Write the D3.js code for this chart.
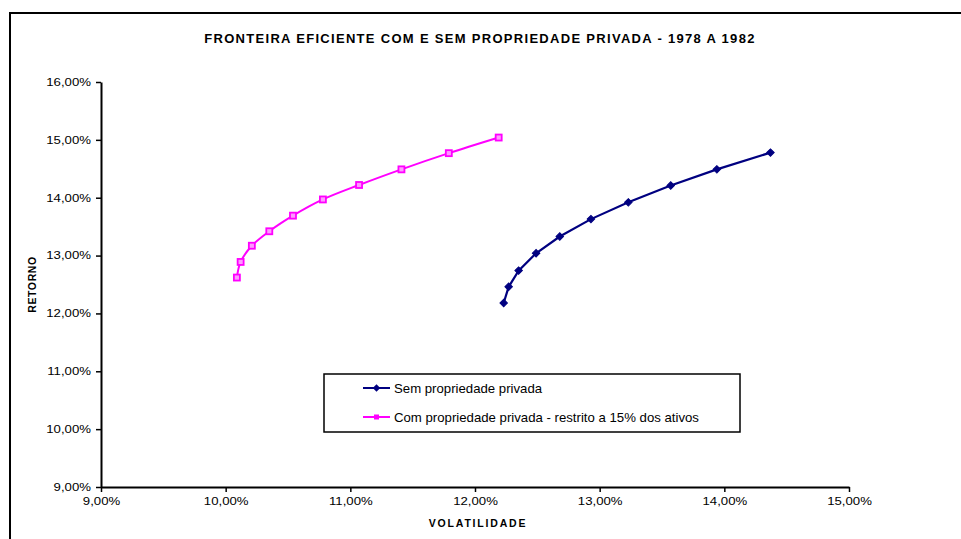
<!DOCTYPE html>
<html>
<head>
<meta charset="utf-8">
<script src="https://cdn.jsdelivr.net/npm/d3@7"></script>
<style>
  html, body { margin: 0; padding: 0; background: #fff; }
  svg { display: block; font-family: "Liberation Sans", Arial, sans-serif; }
</style>
</head>
<body>
<svg id="chart" width="961" height="539"></svg>
<script>
// Efficient frontier, volatility (%) vs return (%)
const semVol = [12.23, 12.27, 12.35, 12.49, 12.68, 12.93, 13.23, 13.57, 13.94, 14.37];
const semRet = [12.18, 12.46, 12.74, 13.04, 13.33, 13.63, 13.92, 14.21, 14.49, 14.78];
const comVol = [10.09, 10.12, 10.21, 10.35, 10.54, 10.78, 11.07, 11.41, 11.79, 12.19];
const comRet = [12.62, 12.89, 13.17, 13.42, 13.69, 13.97, 14.22, 14.49, 14.77, 15.04];

const seriesNames = ["Sem propriedade privada", "Com propriedade privada - restrito a 15% dos ativos"];
const xTicks = [9, 10, 11, 12, 13, 14, 15];
const yTicks = [9, 10, 11, 12, 13, 14, 15, 16];

const titleText = "FRONTEIRA EFICIENTE COM E SEM PROPRIEDADE PRIVADA - 1978 A 1982";
const xTitle = "VOLATILIDADE";
const yTitle = "RETORNO";

const navy = "#000080";
const magenta = "#FF00FF";

const svg = d3.select("#chart");
const plot = { left: 101, right: 849, top: 82, bottom: 487 };

const x = d3.scaleLinear().domain([9, 15]).range([plot.left, plot.right]);
const y = d3.scaleLinear().domain([9, 16]).range([plot.bottom, plot.top]);
const fmt = v => d3.format(".2f")(v).replace(".", ",") + "%";

// outer frame
svg.append("rect")
  .attr("x", 10).attr("y", 13).attr("width", 1000).attr("height", 600)
  .attr("fill", "none").attr("stroke", "#000").attr("stroke-width", 2);

// title
svg.append("text")
  .attr("x", 480).attr("y", 43)
  .attr("text-anchor", "middle")
  .attr("font-size", 13).attr("font-weight", "bold")
  .attr("letter-spacing", 1.3)
  .text(titleText);

// axes
const sx = 1.28;
const yAxis = svg.append("g")
  .attr("transform", `translate(${plot.left},0)`)
  .call(d3.axisLeft(y).tickValues(yTicks).tickFormat(fmt).tickSize(5).tickSizeOuter(0));
yAxis.selectAll("text")
  .attr("font-size", 10.3).attr("fill", "#000").attr("font-family", "Liberation Sans, Arial, sans-serif")
  .attr("x", -10 / sx)
  .attr("transform", `scale(${sx},1)`);

const xAxis = svg.append("g")
  .attr("transform", `translate(0,${plot.bottom})`)
  .call(d3.axisBottom(x).tickValues(xTicks).tickFormat(fmt).tickSize(5).tickSizeOuter(0));
xAxis.selectAll(".tick text")
  .attr("font-size", 10.3).attr("fill", "#000").attr("font-family", "Liberation Sans, Arial, sans-serif")
  .attr("y", 11)
  .attr("transform", `scale(${sx},1)`);

[yAxis, xAxis].forEach(g => {
  g.select(".domain").attr("stroke", "#000").attr("stroke-width", 2);
  g.selectAll(".tick line").attr("stroke", "#000").attr("stroke-width", 1.5);
});

// axis titles
svg.append("text")
  .attr("x", 478).attr("y", 527)
  .attr("text-anchor", "middle")
  .attr("font-size", 10.5).attr("font-weight", "bold")
  .attr("letter-spacing", 1.8)
  .text(xTitle);

svg.append("text")
  .attr("transform", `translate(36,${(plot.top + plot.bottom) / 2}) rotate(-90)`)
  .attr("text-anchor", "middle")
  .attr("font-size", 10.5).attr("font-weight", "bold")
  .attr("letter-spacing", 0.6)
  .text(yTitle);

// series
const semData = semVol.map((v, i) => ({ v, r: semRet[i] }));
const comData = comVol.map((v, i) => ({ v, r: comRet[i] }));

const lineLinear = d3.line().x(d => x(d.v)).y(d => y(d.r));
const lineSmooth = d3.line().x(d => x(d.v)).y(d => y(d.r)).curve(d3.curveCatmullRom.alpha(0.5));

svg.append("path").datum(comData)
  .attr("d", lineSmooth)
  .attr("fill", "none").attr("stroke", magenta).attr("stroke-width", 2);

svg.append("path").datum(semData)
  .attr("d", lineLinear)
  .attr("fill", "none").attr("stroke", navy).attr("stroke-width", 2.2);

// square symbol turned 45 degrees gives an even diamond
const diamond = d3.symbol().type(d3.symbolSquare).size(28);

svg.append("g").selectAll("path")
  .data(semData).join("path")
  .attr("transform", d => `translate(${x(d.v)},${y(d.r)}) rotate(45)`)
  .attr("d", diamond)
  .attr("fill", navy).attr("stroke", navy).attr("stroke-width", 1);

svg.append("g").selectAll("rect")
  .data(comData).join("rect")
  .attr("x", d => x(d.v) - 3).attr("y", d => y(d.r) - 3)
  .attr("width", 6).attr("height", 6)
  .attr("fill", "#ff99ff").attr("stroke", magenta).attr("stroke-width", 1.8);

// legend
const legend = svg.append("g");
legend.append("rect")
  .attr("x", 324).attr("y", 374).attr("width", 416).attr("height", 58)
  .attr("fill", "#fff").attr("stroke", "#000").attr("stroke-width", 1.5);

const rows = [
  { name: seriesNames[0], color: navy, yy: 388, marker: "diamond" },
  { name: seriesNames[1], color: magenta, yy: 417, marker: "square" }
];
rows.forEach(r => {
  legend.append("line")
    .attr("x1", 363).attr("x2", 390).attr("y1", r.yy).attr("y2", r.yy)
    .attr("stroke", r.color).attr("stroke-width", 2);
  if (r.marker === "diamond") {
    legend.append("path")
      .attr("transform", `translate(376.5,${r.yy}) rotate(45)`)
      .attr("d", diamond).attr("fill", r.color);
  } else {
    legend.append("rect")
      .attr("x", 374).attr("y", r.yy - 2.5).attr("width", 5).attr("height", 5)
      .attr("fill", r.color);
  }
  legend.append("text")
    .attr("x", 394).attr("y", r.yy + 4.5)
    .attr("font-size", 13.2)
    .text(r.name);
});
</script>
</body>
</html>
